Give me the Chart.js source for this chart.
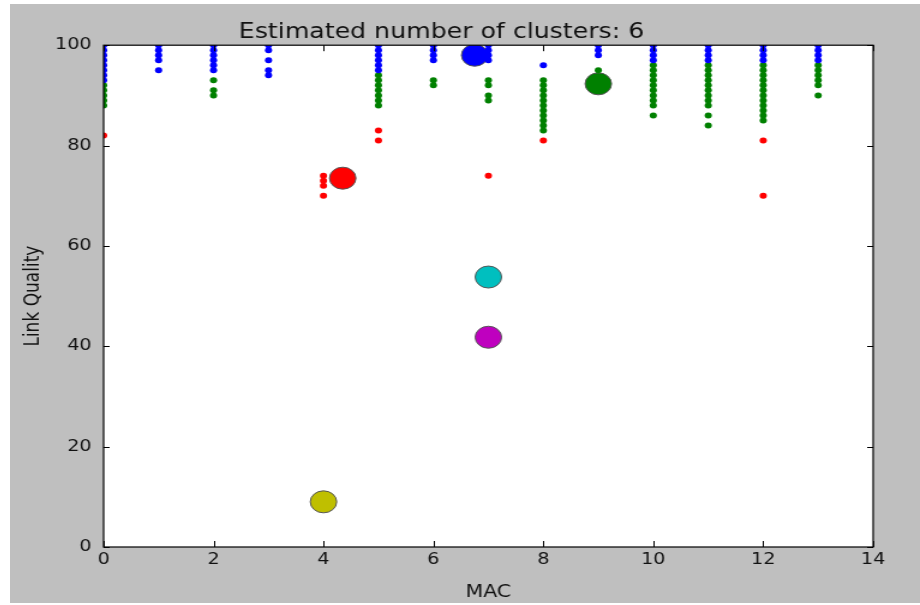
<!DOCTYPE html>
<html>
<head>
<meta charset="utf-8">
<script src="https://cdn.jsdelivr.net/npm/chart.js@4/dist/chart.umd.min.js"></script>
<style>
  body { margin: 0; background: #ffffff; }
  #clusterChart { position: absolute; left: 10px; top: 4px; background: #bfbfbf; }
</style>
</head>
<body>
<canvas id="clusterChart" width="758" height="599" style="width: 910px; height: 599px;"></canvas>
<script>
var ctx = document.getElementById("clusterChart").getContext('2d');

var titleText = "Estimated number of clusters: 6";
var xTicks = [0, 2, 4, 6, 8, 10, 12, 14];
var yTicks = [0, 20, 40, 60, 80, 100];

// blue cluster
var blueMac = [0,0,0,0,0,0,0,0, 1,1,1,1,1, 2,2,2,2,2,2, 3,3,3,3,3, 5,5,5,5,5,5, 6,6,6,6, 7,7,7,7, 8, 9,9,9, 10,10,10,10, 11,11,11,11, 12,12,12,12, 13,13,13,13];
var blueLq  = [100,99,98,97,96,95,94,93, 100,99,98,97,95, 100,99,98,97,96,95, 100,99,97,95,94, 100,99,98,97,96,95, 100,99,98,97, 100,99,98,97, 96, 100,99,98, 100,99,98,97, 100,99,98,97, 100,99,98,97, 100,99,98,97];

// green cluster
var greenMac = [0,0,0,0,0, 2,2,2, 5,5,5,5,5,5,5, 6,6, 7,7,7,7, 8,8,8,8,8,8,8,8,8,8,8, 9, 10,10,10,10,10,10,10,10,10,10, 11,11,11,11,11,11,11,11,11,11,11, 12,12,12,12,12,12,12,12,12,12,12,12, 13,13,13,13,13,13];
var greenLq  = [92,91,90,89,88, 93,91,90, 94,93,92,91,90,89,88, 93,92, 93,92,90,89, 93,92,91,90,89,88,87,86,85,84,83, 95, 96,95,94,93,92,91,90,89,88,86, 96,95,94,93,92,91,90,89,88,86,84, 96,95,94,93,92,91,90,89,88,87,86,85, 96,95,94,93,92,90];

// red cluster
var redMac = [0, 4,4,4,4, 5,5, 7, 8, 12,12];
var redLq  = [82, 74,73,72,70, 83,81, 74, 81, 81,70];

// cluster centers
var centerMac = [4.35, 6.75, 9.0, 7.0, 7.0, 4.0];
var centerLq = [73.5, 98.0, 92.3, 53.8, 41.8, 9.0];
var centerColors = ["#ff0000", "#0000ff", "#008000", "#00bfbf", "#bf00bf", "#bfbf00"];

function toPoints(xs, ys) {
  var pts = [];
  for (var i = 0; i < xs.length; i++) {
    pts.push({x: xs[i], y: ys[i]});
  }
  return pts;
}

function dotSet(xs, ys, color) {
  return {
    data: toPoints(xs, ys),
    backgroundColor: color,
    borderColor: color,
    borderWidth: 0,
    pointRadius: 3,
    clip: 0
  };
}

var datasets = [
  dotSet(blueMac, blueLq, "#0000ff"),
  dotSet(greenMac, greenLq, "#008000"),
  dotSet(redMac, redLq, "#ff0000")
];

for (var c = 0; c < centerMac.length; c++) {
  datasets.push({
    data: [{x: centerMac[c], y: centerLq[c]}],
    backgroundColor: centerColors[c],
    borderColor: "#555555",
    borderWidth: 1,
    pointRadius: 11,
    clip: 0
  });
}

// white plot area, black frame and inward ticks on all sides
var framePlugin = {
  id: 'frame',
  beforeDatasetsDraw: function(chart) {
    var a = chart.chartArea;
    var c = chart.ctx;
    c.save();
    c.fillStyle = "#ffffff";
    c.fillRect(a.left, a.top, a.right - a.left, a.bottom - a.top);
    c.restore();
  },
  afterDatasetsDraw: function(chart) {
    var a = chart.chartArea;
    var c = chart.ctx;
    var xs = chart.scales.x, ys = chart.scales.y;
    c.save();
    c.strokeStyle = "#000000";
    c.lineWidth = 1;
    c.beginPath();
    for (var i = 0; i < xTicks.length; i++) {
      var px = Math.round(xs.getPixelForValue(xTicks[i])) + 0.5;
      c.moveTo(px, a.bottom); c.lineTo(px, a.bottom - 6);
      c.moveTo(px, a.top); c.lineTo(px, a.top + 6);
    }
    for (var j = 0; j < yTicks.length; j++) {
      var py = Math.round(ys.getPixelForValue(yTicks[j])) + 0.5;
      c.moveTo(a.left, py); c.lineTo(a.left + 5, py);
      c.moveTo(a.right, py); c.lineTo(a.right - 5, py);
    }
    c.stroke();
    c.lineWidth = 1.2;
    c.strokeRect(a.left, a.top, a.right - a.left, a.bottom - a.top);
    c.restore();
  }
};

var chart = new Chart(ctx, {
  type: 'scatter',
  data: { datasets: datasets },
  plugins: [framePlugin],
  options: {
    responsive: false,
    devicePixelRatio: 1,
    animation: false,
    events: [],
    layout: { padding: { left: 0, right: 39, top: 0, bottom: 0 } },
    plugins: {
      legend: { display: false },
      tooltip: { enabled: false },
      title: {
        display: true,
        text: titleText,
        color: "#111111",
        font: { family: "DejaVu Sans", size: 21, weight: 'normal' },
        padding: { top: 16, bottom: 0 }
      }
    },
    scales: {
      x: {
        type: 'linear',
        min: 0,
        max: 14,
        afterFit: function(scale) { scale.height = 56; },
        afterBuildTicks: function(scale) { scale.ticks = xTicks.map(function(v) { return {value: v}; }); },
        grid: { display: false, drawTicks: false },
        border: { display: false },
        ticks: { color: "#111111", padding: 3, font: { family: "DejaVu Sans", size: 16 } },
        title: {
          display: true,
          text: "MAC",
          color: "#111111",
          font: { family: "DejaVu Sans", size: 17 },
          padding: { top: 13, bottom: 0 }
        }
      },
      y: {
        type: 'linear',
        min: 0,
        max: 100,
        afterFit: function(scale) { scale.width = 78; },
        afterBuildTicks: function(scale) { scale.ticks = yTicks.map(function(v) { return {value: v}; }); },
        grid: { display: false, drawTicks: false },
        border: { display: false },
        ticks: { color: "#111111", padding: 10, font: { family: "DejaVu Sans", size: 16 } },
        title: {
          display: true,
          text: "Link Quality",
          color: "#111111",
          font: { family: "DejaVu Sans", size: 17 },
          padding: { top: 9, bottom: 0 }
        }
      }
    }
  }
});
</script>
</body>
</html>
